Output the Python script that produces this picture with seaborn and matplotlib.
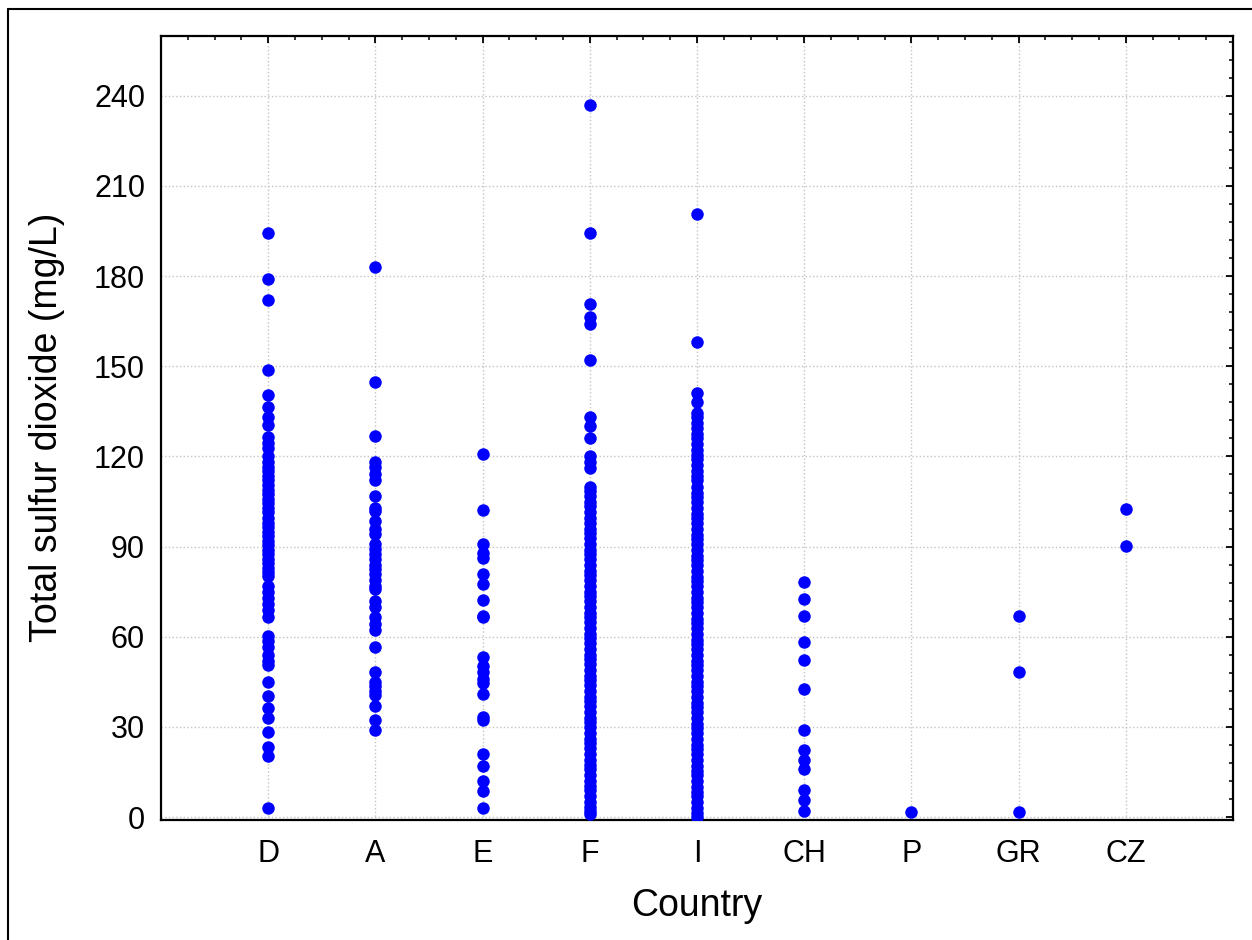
import pandas as pd
import seaborn as sns
import matplotlib.pyplot as plt
from matplotlib.ticker import MultipleLocator
from matplotlib.lines import Line2D

countries = ['D', 'A', 'E', 'F', 'I', 'CH', 'P', 'GR', 'CZ']

so2_D = [194.3, 178.9, 172, 148.9, 140.3, 136.3, 133, 130.6, 126.4, 124.5, 122.7, 120.3,
         118, 116.5, 115, 113.5, 112, 110.5, 109, 107.5, 106, 104.5, 103, 101.5, 99.5, 98,
         96.5, 95, 93.5, 92, 90.5, 89, 87.5, 86, 84.5, 83, 81.5, 80.3, 77, 75, 73, 71, 69,
         66.7, 60.4, 58.5, 56.5, 54, 52, 50.5, 45, 40.2, 36.4, 33, 28.2, 23.4, 20.4, 3]
so2_A = [182.9, 144.9, 126.9, 118, 116.5, 114, 112, 107, 103, 102, 98.6, 95.9, 94.2, 90.9,
         89.2, 87.5, 86, 84, 82.5, 81, 79, 77, 76, 72, 70, 66.5, 64.3, 62.1, 56.5, 48.2, 45,
         43.6, 42, 40.5, 36.8, 32.4, 29.1]
so2_E = [120.8, 102.2, 90.9, 87.8, 86.2, 80.9, 77.5, 72.2, 67, 66.5, 53.2, 50.4, 48.3, 46,
         44.6, 40.9, 33.2, 32.4, 21, 17, 11.9, 8.8, 3]
so2_F = [236.8, 194.2, 170.8, 166.3, 164.1, 152.2, 133, 130, 126.2, 120.3, 118, 116,
         110, 108.5, 107, 105, 103.5, 101.5, 99.5, 98, 96, 94.5, 93, 91, 89, 87.5, 86, 84,
         82, 80.5, 79, 77, 75, 73.5, 72, 70, 68, 66.5, 65, 63, 61, 59.5, 58, 56, 54, 52.5,
         51, 49, 47, 45.5, 44, 42, 40, 38.5, 37, 35, 33, 31.5, 30, 28, 26, 24.5, 23, 21, 19,
         17.5, 16, 14, 12, 10.5, 9, 7, 5, 3.5, 2, 1]
so2_I = [200.7, 158.2, 141.1, 138, 134.5, 133, 131, 129.5, 127.5, 126, 124, 122, 120.5, 119,
         117, 115, 113.5, 112, 110, 108, 106.5, 105, 103, 101, 99.5, 98, 96, 94, 92.5, 91,
         89, 87, 85.5, 84, 82, 80, 78.5, 77, 75, 73, 71.5, 70, 68, 66, 64.5, 63, 61, 59,
         57.5, 56, 54, 52, 50.5, 49, 47, 45, 43.5, 42, 40, 38, 36.5, 35, 33, 31, 29.5, 28,
         26, 24, 22.5, 21, 19, 17, 15.5, 14, 12, 10, 8.5, 7, 5, 3, 1.5, 0]
so2_CH = [78.2, 72.6, 66.9, 58.3, 52.3, 42.6, 29, 22.3, 19, 16, 9, 5.7, 2]
so2_P = [1.8]
so2_GR = [66.9, 48.3, 1.8]
so2_CZ = [102.5, 90.2]

values = [so2_D, so2_A, so2_E, so2_F, so2_I, so2_CH, so2_P, so2_GR, so2_CZ]
df = pd.DataFrame({
    'Country': [c for c, v in zip(countries, values) for _ in v],
    'so2': [x for v in values for x in v],
})

sns.set_theme(style='white')
plt.rcParams['font.family'] = ['Liberation Sans', 'DejaVu Sans']

W, H = 1252, 940
fig = plt.figure(figsize=(W / 100, H / 100), dpi=100)
ax = fig.add_axes([161 / W, 1 - 819.5 / H, (1233 - 161) / W, (819.5 - 35.7) / H])

sns.stripplot(data=df, x='Country', y='so2', order=countries, jitter=False,
              color='#0000ff', size=9, linewidth=0, ax=ax, zorder=3)

ax.set_xlim(-1, 9)
ax.set_ylim(-0.8, 260)
ax.yaxis.set_major_locator(MultipleLocator(30))
ax.yaxis.set_minor_locator(MultipleLocator(6))
ax.xaxis.set_minor_locator(MultipleLocator(0.25))

ax.set_axisbelow(True)
ax.grid(True, which='major', linestyle=':', color='#c4c4c4', linewidth=1)

for sp in ax.spines.values():
    sp.set_visible(True)
    sp.set_color('black')
    sp.set_linewidth(1.6)

ax.tick_params(which='both', direction='in', top=True, right=True, color='black',
               labelsize=22, labelcolor='black')
ax.tick_params(axis='y', pad=11.5)
ax.tick_params(axis='x', pad=14)
ax.tick_params(which='major', length=5, width=1.3)
ax.tick_params(which='minor', length=3, width=1.1)

ax.set_xlabel('Country', fontsize=27, color='black')
ax.set_ylabel('Total sulfur dioxide (mg/L)', fontsize=27, color='black')
ax.xaxis.set_label_coords(0.5, -0.087)
ax.yaxis.set_label_coords(-0.09, 0.5)

# outer frame (only left and top edges visible in the crop)
fig.add_artist(Line2D([7.5 / W, 7.5 / W], [0, 1 - 9 / H], color='black', linewidth=1.5))
fig.add_artist(Line2D([7.5 / W, 1], [1 - 9 / H, 1 - 9 / H], color='black', linewidth=1.5))

fig.savefig('out.png', dpi=100)
